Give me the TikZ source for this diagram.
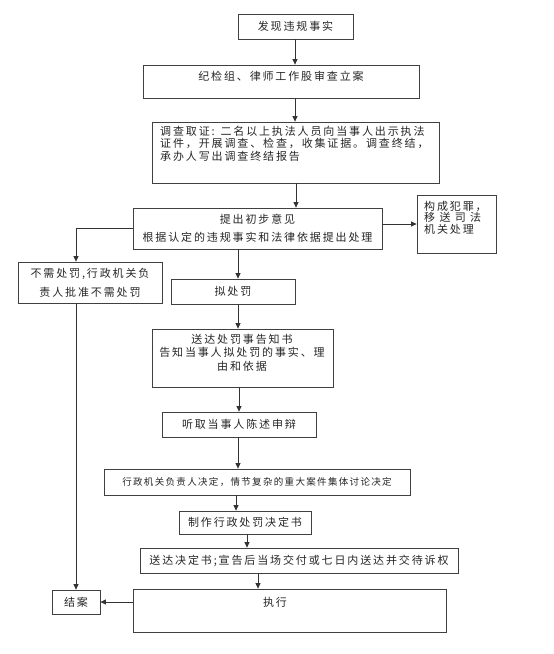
\documentclass[tikz,border=0pt]{standalone}
\usepackage{fontspec}
\setmainfont{Noto Sans CJK SC}[LetterSpace=17]
\newfontfamily\smallcjk{Noto Sans CJK SC}[LetterSpace=14]
\usetikzlibrary{arrows.meta}
\newcommand\bx[5]{\node[box, minimum width={#4pt-#2pt}, minimum height={#5pt-#3pt}] (#1) at ({(#2+#4)/2},{(#3+#5)/2}) {};}
\tikzset{
  box/.style={draw=black!75, line width=0.8pt, inner sep=0pt, fill=white},
  txt/.style={inner sep=0pt, font=\fontsize{11}{12.5}\selectfont, text=black!85},
  arr/.style={draw=black!80, line width=0.8pt, -{Triangle[length=5.5pt,width=5pt]}},
  ln/.style={draw=black!80, line width=0.8pt}
}
\begin{document}
\begin{tikzpicture}[x=1pt,y=-1pt]
\useasboundingbox (0,0) rectangle (554,654);
\fill[white] (0,0) rectangle (554,654);
% boxes
\bx{b1}{238}{14}{353}{39}
\bx{b2}{143}{65}{419}{98}
\bx{b3}{152}{122}{439}{183}
\bx{b4}{133}{208}{382}{249}
\bx{b5}{417}{195}{496}{253}
\bx{b6}{18}{262}{162}{303}
\bx{b7}{171}{279}{295}{304}
\bx{b8}{152}{329}{333}{387}
\bx{b9}{162}{412}{316}{437}
\bx{b10}{104}{469}{410}{495}
\bx{b11}{179}{511}{311}{534}
\bx{b12}{140}{548}{458}{573}
\bx{b13}{52}{590}{100}{614}
\bx{b14}{133}{589}{446}{632}
% texts
\node[txt] (t1) at (295.5,26.5) {发现违规事实};
\node[txt] (t2) at (281,76) {纪检组、律师工作股审查立案};
\node[txt, anchor=north west, align=left] (t3) at (160,126) {调查取证: 二名以上执法人员向当事人出示执法\\证件，开展调查、检查，收集证据。调查终结，\\承办人写出调查终结报告};
\node[txt] (t4a) at (257.5,219) {提出初步意见};
\node[txt] (t4b) at (257.5,237) {根据认定的违规事实和法律依据提出处理};
\node[txt, anchor=north west, align=left, font=\fontsize{11}{11.5}\selectfont] (t5) at (424,201) {构成犯罪，\\移 送 司 法\\机关处理};
\node[txt] (t6a) at (90,274) {不需处罚,行政机关负};
\node[txt] (t6b) at (90,292) {责人批准不需处罚};
\node[txt] (t7) at (233,291.5) {拟处罚};
\node[txt, align=center, font=\fontsize{11}{13.5}\selectfont] (t8) at (242,352.5) {送达处罚事告知书\\告知当事人拟处罚的事实、理\\由和依据};
\node[txt] (t9) at (239,424.5) {听取当事人陈述申辩};
\node[txt, font=\smallcjk\fontsize{9.5}{11}\selectfont] (t10) at (257,482) {行政机关负责人决定，情节复杂的重大案件集体讨论决定};
\node[txt] (t11) at (245,522.5) {制作行政处罚决定书};
\node[txt] (t12) at (299,560.5) {送达决定书;宣告后当场交付或七日内送达并交待诉权};
\node[txt] (t13) at (76,602) {结案};
\node[txt] (t14) at (275,602) {执行};
% connectors
\draw[arr] (295,0 |- b1.south) -- (295,0 |- b2.north);
\draw[arr] (295,0 |- b2.south) -- (295,0 |- b3.north);
\draw[arr] (296,0 |- b3.south) -- (296,0 |- b4.north);
\draw[arr] (b4.east |- 0,224) -- (b5.west |- 0,224);
\draw[arr] (b4.west |- 0,228) -| (b6.north -| 76,0);
\draw[arr] (238,0 |- b4.south) -- (238,0 |- b7.north);
\draw[arr] (238,0 |- b7.south) -- (238,0 |- b8.north);
\draw[arr] (239,0 |- b8.south) -- (239,0 |- b9.north);
\draw[arr] (238,0 |- b9.south) -- (238,0 |- b10.north);
\draw[arr] (236,0 |- b10.south) -- (236,0 |- b11.north);
\draw[arr] (247,0 |- b11.south) -- (247,0 |- b12.north);
\draw[arr] (258,0 |- b12.south) -- (258,0 |- b14.north);
\draw[arr] (b14.west |- 0,602) -- (b13.east |- 0,602);
\draw[arr] (76,0 |- b6.south) -- (76,0 |- b13.north);
\end{tikzpicture}
\end{document}
